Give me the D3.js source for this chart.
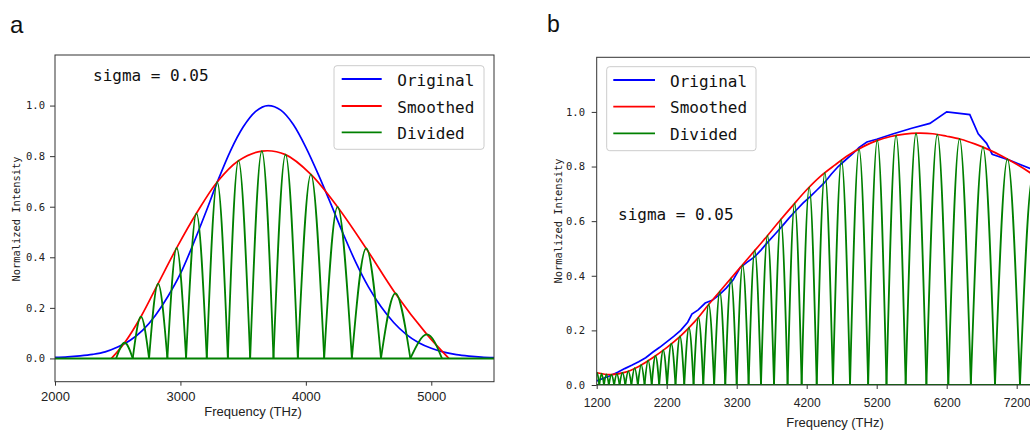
<!DOCTYPE html>
<html><head><meta charset="utf-8">
<script src="https://cdn.jsdelivr.net/npm/d3@7"></script>
<style>body{margin:0;background:#fff}</style>
</head><body>
<svg id="c" width="1030" height="430"></svg>
<script>
// ---------- Panel a data ----------
const xTicksA = [2000, 3000, 4000, 5000];
const yTicksA = [0.0, 0.2, 0.4, 0.6, 0.8, 1.0];
const blueFreqA = [2000,2100,2200,2300,2400,2500,2600,2700,2800,2900,3000,3100,3200,3300,3400,3500,3600,3700,3800,3900,4000,4100,4200,4300,4400,4500,4600,4700,4800,4900,5000,5100,5200,5300,5400,5500];
const blueValA  = [0.004,0.006,0.010,0.016,0.026,0.045,0.072,0.112,0.170,0.245,0.335,0.450,0.575,0.705,0.822,0.915,0.977,1.000,0.982,0.925,0.835,0.727,0.610,0.490,0.378,0.282,0.204,0.142,0.095,0.062,0.040,0.025,0.015,0.009,0.005,0.003];
const redFreqA = [2450,2555,2685,2822,2970,3128,3293,3463,3650,3838,4040,4253,4481,4714,4965,5140];
const redValA  = [0.0,0.062,0.165,0.296,0.437,0.574,0.698,0.782,0.820,0.806,0.728,0.599,0.435,0.257,0.095,0.0];
const divZerosA = [2487,2620,2750,2896,3045,3210,3378,3556,3742,3936,4146,4367,4599,4833,5085];
const divPeakFreqA = [2555,2685,2822,2970,3128,3293,3463,3649,3838,4040,4253,4481,4714,4965];
const divPeakValA  = [0.062,0.165,0.296,0.437,0.574,0.698,0.782,0.820,0.806,0.728,0.599,0.435,0.257,0.095];

// ---------- Panel b data ----------
const xTicksB = [1200, 2200, 3200, 4200, 5200, 6200, 7200];
const yTicksB = [0.0, 0.2, 0.4, 0.6, 0.8, 1.0];
const blueFreqB = [1200,1300,1400,1500,1600,1700,1800,1900,2000,2100,2200,2300,2400,2500,2560,2650,2750,2850,2950,3050,3150,3250,3350,3450,3550,3650,3750,3850,3950,4050,4150,4250,4350,4450,4550,4650,4750,4850,4950,5060,5200,5440,5700,5960,6200,6530,6650,6770,6850,7100,7390,7600];
const blueValB  = [0.015,0.025,0.035,0.047,0.060,0.072,0.085,0.100,0.120,0.138,0.158,0.178,0.200,0.230,0.260,0.275,0.300,0.310,0.330,0.355,0.385,0.430,0.450,0.468,0.495,0.525,0.553,0.582,0.612,0.640,0.667,0.690,0.715,0.740,0.772,0.800,0.823,0.845,0.870,0.890,0.900,0.920,0.940,0.958,1.000,0.990,0.920,0.885,0.845,0.823,0.793,0.775];
const redFreqB = [1200,1400,1600,1800,2000,2200,2400,2600,2800,3000,3200,3400,3600,3800,4000,4200,4400,4600,4800,5000,5200,5400,5600,5800,6000,6200,6400,6600,6800,7000,7200,7400,7600,7800,8000];
const redValB  = [0.045,0.038,0.046,0.068,0.100,0.137,0.180,0.232,0.295,0.355,0.415,0.475,0.535,0.597,0.657,0.715,0.765,0.805,0.842,0.872,0.895,0.910,0.919,0.922,0.920,0.911,0.900,0.883,0.862,0.837,0.808,0.776,0.740,0.700,0.660];
const divZerosB = [1173,1237,1304,1374,1449,1527,1609,1696,1788,1884,1986,2093,2206,2326,2451,2584,2723,2878,3037,3200,3370,3547,3733,3927,4128,4343,4575,4819,5078,5340,5614,5910,6223,6545,6890,7247,7617,7995];
const divPeakFreqB = [1205,1270,1339,1411,1488,1568,1652,1742,1836,1935,2040,2150,2266,2389,2518,2654,2800,2958,3118,3285,3458,3640,3830,4028,4236,4459,4697,4948,5209,5477,5762,6066,6384,6718,7068,7432,7806];
const divPeakValB  = [0.045,0.042,0.039,0.038,0.041,0.045,0.051,0.062,0.074,0.090,0.107,0.128,0.151,0.178,0.210,0.247,0.295,0.342,0.390,0.440,0.493,0.547,0.606,0.665,0.724,0.777,0.823,0.864,0.896,0.914,0.921,0.917,0.901,0.871,0.827,0.770,0.700];

const seriesNames = ["Original", "Smoothed", "Divided"];
const seriesColors = ["#0000ff", "#ff0000", "#008000"];

const svg = d3.select("#c");
svg.append("rect").attr("width",1030).attr("height",430).attr("fill","#fff");
const MONO = "'DejaVu Sans Mono', 'Liberation Mono', monospace";
const SANS = "'Liberation Sans', Arial, sans-serif";

function drawPanel(o) {
  const x = d3.scaleLinear(o.xDomain, o.xRange);
  const y = d3.scaleLinear(o.yDomain, o.yRange);
  const clipId = o.id + "clip";
  svg.append("clipPath").attr("id", clipId).append("rect")
    .attr("x", o.xRange[0]).attr("y", o.yRange[1])
    .attr("width", o.xRange[1] - o.xRange[0]).attr("height", o.yRange[0] - o.yRange[1]);
  const plot = svg.append("g").attr("clip-path", `url(#${clipId})`);

  const ln = (curve) => d3.line().x(d => x(d[0])).y(d => y(d[1])).curve(curve);

  plot.append("path").datum(d3.zip(o.blueF, o.blueV))
    .attr("d", ln(o.blueCurve)).attr("fill","none").attr("stroke",seriesColors[0]).attr("stroke-width",1.7);
  plot.append("path").datum(d3.zip(o.redF, o.redV))
    .attr("d", ln(d3.curveCatmullRom)).attr("fill","none").attr("stroke",seriesColors[1]).attr("stroke-width",1.7);

  // green baseline
  plot.append("path").datum([[o.xDomain[0],0],[o.xDomain[1],0]])
    .attr("d", ln(d3.curveLinear)).attr("fill","none").attr("stroke",seriesColors[2]).attr("stroke-width",2);
  // lobes
  for (let i = 0; i < o.peakF.length; i++) {
    const pts = [[o.zeros[i],0],[o.peakF[i],o.peakV[i]],[o.zeros[i+1],0]];
    plot.append("path").datum(pts).attr("d", ln(d3.curveNatural))
      .attr("fill","none").attr("stroke",seriesColors[2]).attr("stroke-width",1.8).attr("stroke-linejoin","round");
  }

  // spines
  svg.append("rect").attr("x",o.xRange[0]).attr("y",o.yRange[1])
    .attr("width",o.xRange[1]-o.xRange[0]).attr("height",o.yRange[0]-o.yRange[1])
    .attr("fill","none").attr("stroke","#333").attr("stroke-width",1);

  // axes
  const gx = svg.append("g").attr("transform",`translate(0,${o.yRange[0]})`)
    .call(d3.axisBottom(x).tickValues(o.xTicks).tickSize(4).tickPadding(o.xPad).tickFormat(d3.format("d")));
  gx.select(".domain").remove();
  gx.selectAll("line").attr("stroke","#333");
  gx.selectAll("text").attr("font-family",SANS).attr("font-size",o.xFont).attr("fill","#222");

  const gy = svg.append("g").attr("transform",`translate(${o.xRange[0]},0)`)
    .call(d3.axisLeft(y).tickValues(o.yTicks).tickSize(5).tickPadding(o.yPad).tickFormat(d3.format(".1f")));
  gy.select(".domain").remove();
  gy.selectAll("line").attr("stroke","#333");
  gy.selectAll("text").attr("font-family",MONO).attr("font-size",10.5).attr("fill","#222");

  // axis titles
  svg.append("text").attr("x",o.xTitle[0]).attr("y",o.xTitle[1]).attr("text-anchor","middle")
    .attr("font-family",SANS).attr("font-size",13).attr("fill","#222").text("Frequency (THz)");
  svg.append("text").attr("transform",`translate(${o.yTitle[0]},${o.yTitle[1]}) rotate(-90)`)
    .attr("text-anchor","middle").attr("dominant-baseline","central")
    .attr("font-family",MONO).attr("font-size",10.4).attr("fill","#222").text("Normalized Intensity");

  // panel letter
  svg.append("text").attr("x",o.letter[0]).attr("y",o.letter[1])
    .attr("font-family",SANS).attr("font-size",o.letterSize).attr("fill","#111").text(o.id);

  // sigma text
  svg.append("text").attr("x",o.sigma[0]).attr("y",o.sigma[1])
    .attr("font-family",MONO).attr("font-size",16).attr("fill","#111").text("sigma = 0.05");

  // legend
  const L = o.legend;
  svg.append("rect").attr("x",L.x).attr("y",L.y).attr("width",L.w).attr("height",L.h)
    .attr("rx",3).attr("fill","#fff").attr("fill-opacity",0.8).attr("stroke","#ccc").attr("stroke-width",1);
  seriesNames.forEach((name, i) => {
    const yy = L.rows[i];
    svg.append("line").attr("x1",L.lx0).attr("x2",L.lx1).attr("y1",yy).attr("y2",yy)
      .attr("stroke",seriesColors[i]).attr("stroke-width",1.8);
    svg.append("text").attr("x",L.tx).attr("y",yy+1).attr("dominant-baseline","central")
      .attr("font-family",MONO).attr("font-size",16).attr("fill","#111").text(name);
  });
}

drawPanel({
  id: "a",
  xDomain: [2000, 5500], xRange: [55, 494],
  yDomain: [-0.092, 1.2], yRange: [381.7, 55],
  xTicks: xTicksA, yTicks: yTicksA, xPad: 6, yPad: 5, xFont: 13,
  blueF: blueFreqA, blueV: blueValA, blueCurve: d3.curveMonotoneX,
  redF: redFreqA, redV: redValA,
  zeros: divZerosA, peakF: divPeakFreqA, peakV: divPeakValA,
  xTitle: [253, 416], yTitle: [16, 219],
  letter: [10, 33], letterSize: 24,
  sigma: [93, 81],
  legend: {x: 334, y: 65.7, w: 150, h: 83.6, rows: [79, 106, 132.3], lx0: 341.7, lx1: 381.7, tx: 397.3}
});

drawPanel({
  id: "b",
  xDomain: [1200, 7600], xRange: [596.7, 1044.7],
  yDomain: [0, 1.2], yRange: [385, 57.3],
  xTicks: xTicksB, yTicks: yTicksB, xPad: 9, yPad: 6.7, xFont: 12,
  blueF: blueFreqB, blueV: blueValB, blueCurve: d3.curveLinear,
  redF: redFreqB, redV: redValB,
  zeros: divZerosB, peakF: divPeakFreqB, peakV: divPeakValB,
  xTitle: [835, 427], yTitle: [558, 221],
  letter: [547, 31.7], letterSize: 23,
  sigma: [618, 220],
  legend: {x: 606.7, y: 66.7, w: 149.3, h: 84, rows: [80, 106.7, 133.3], lx0: 613.3, lx1: 655, tx: 670}
});
</script>
</body></html>
